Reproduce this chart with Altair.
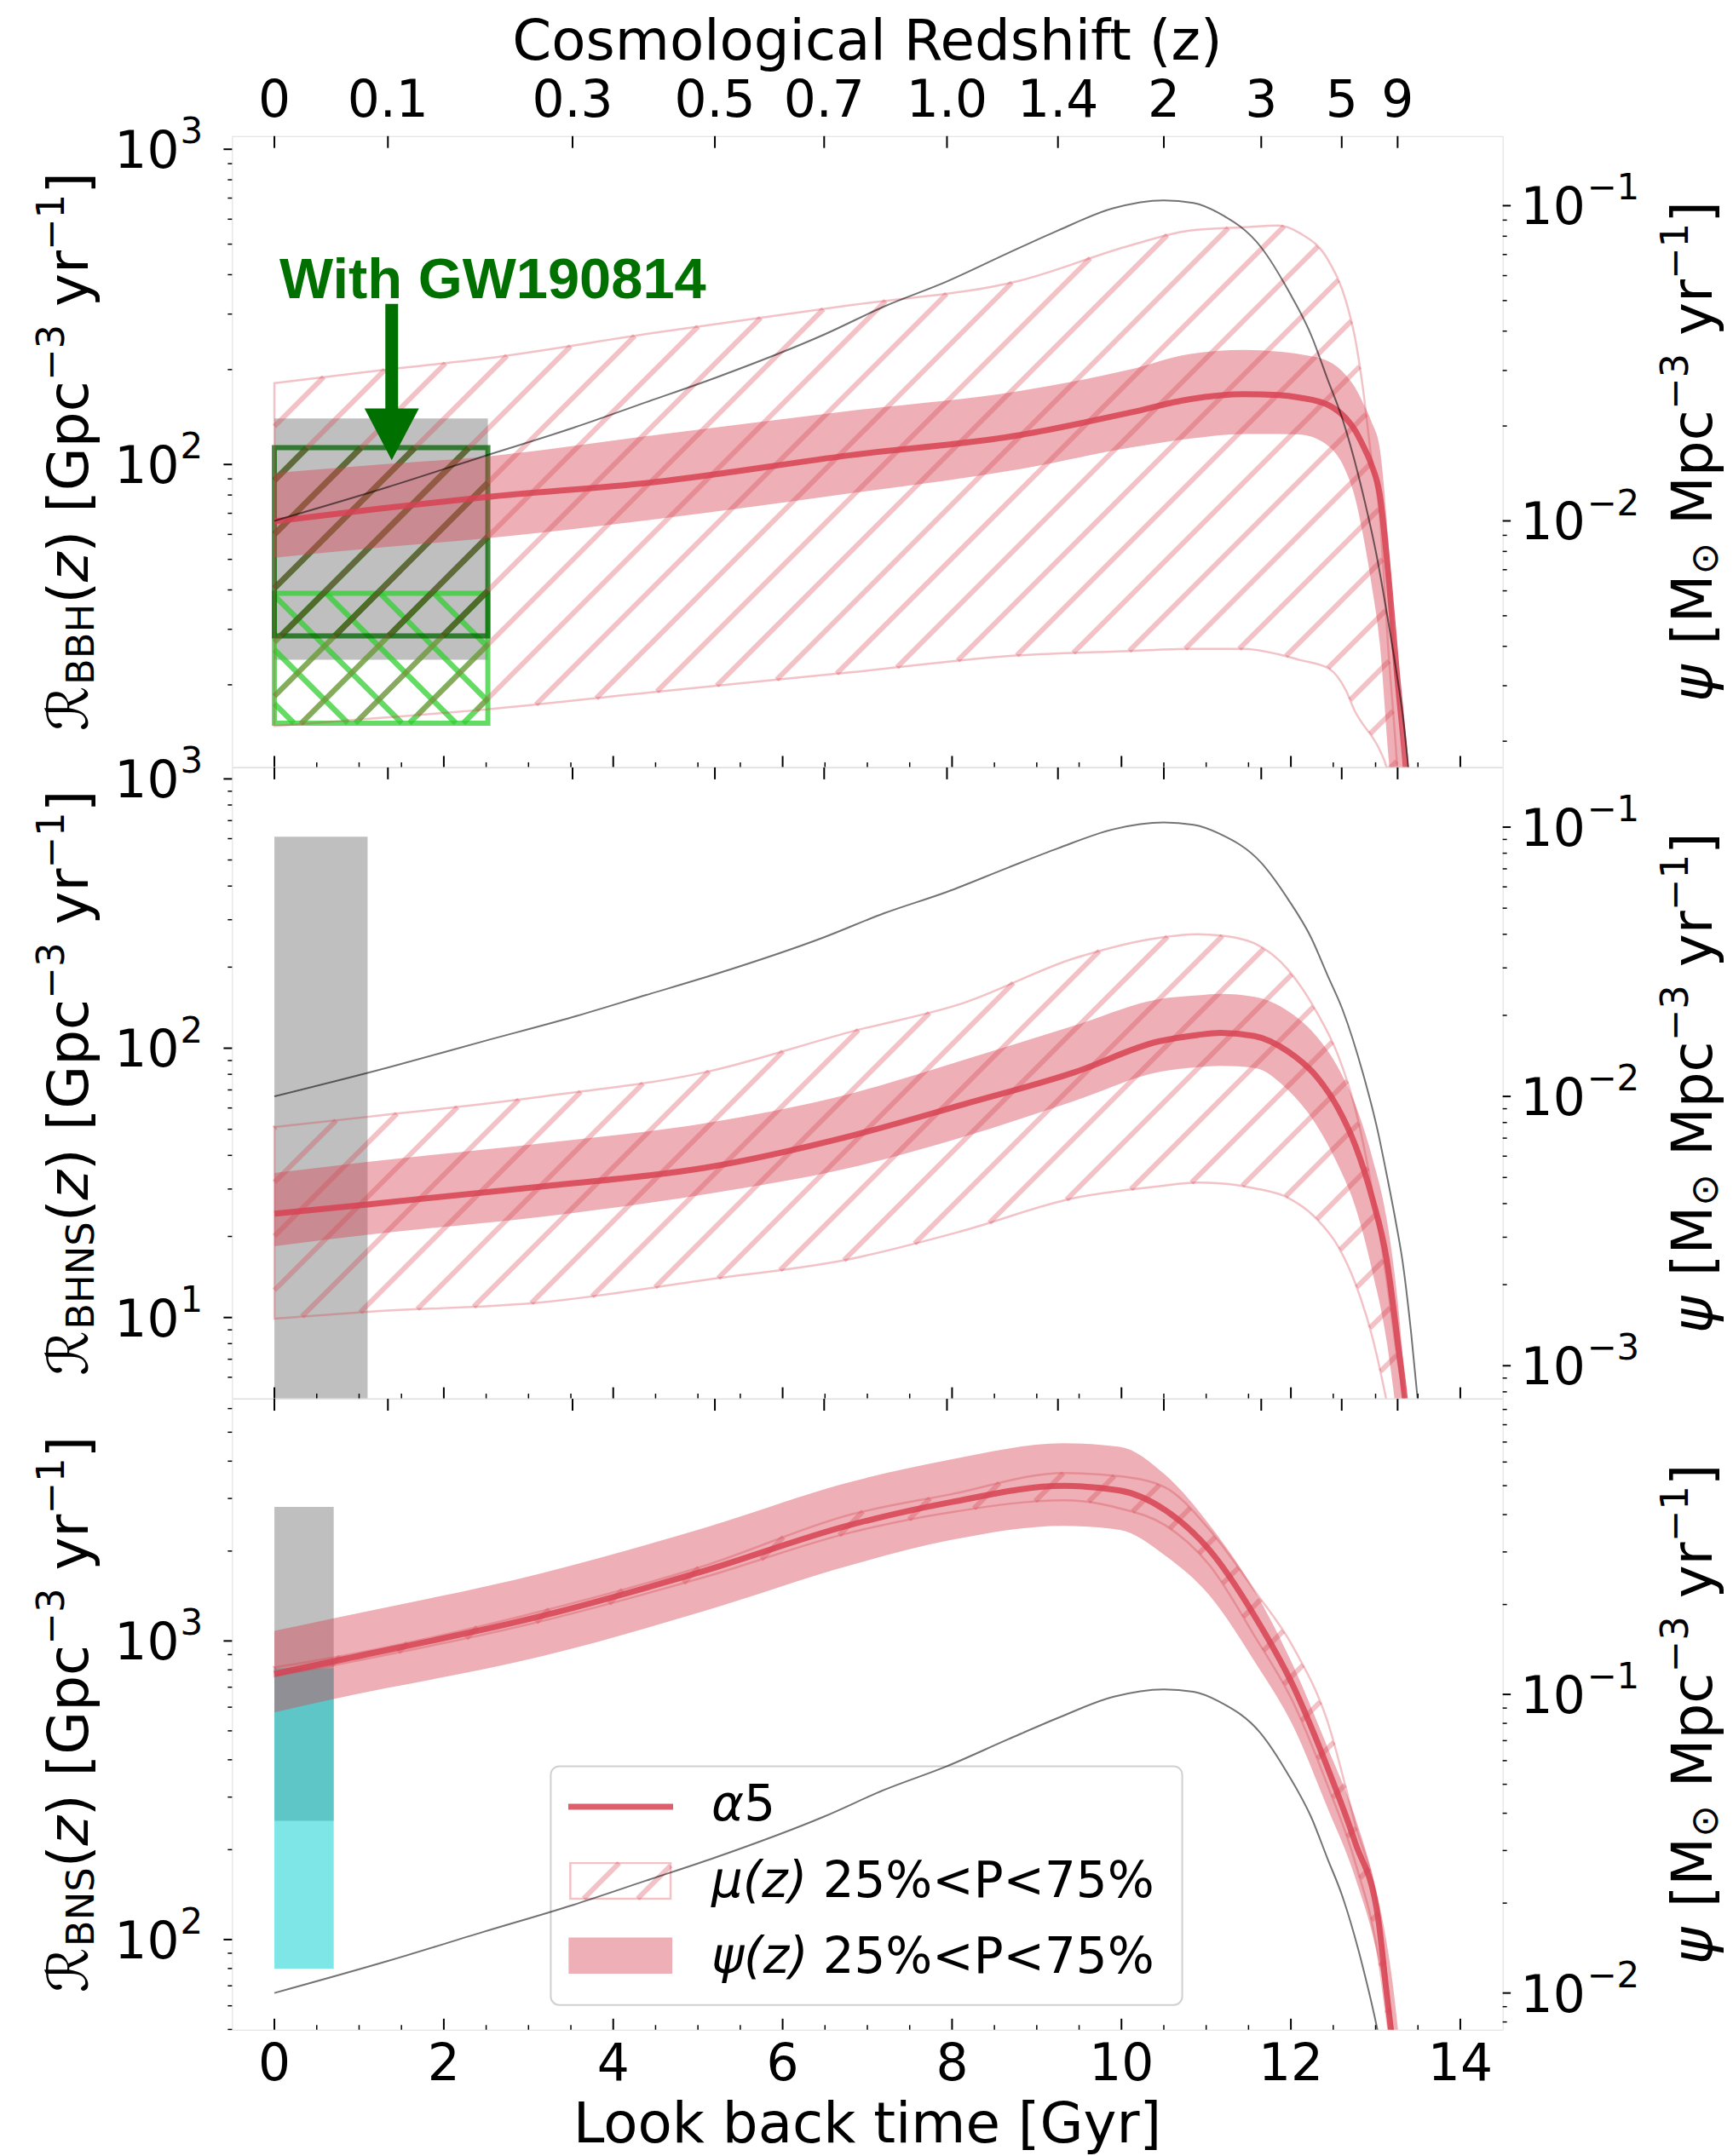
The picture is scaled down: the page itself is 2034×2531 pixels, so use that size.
import numpy as np
import pandas as pd
import altair as alt

# ---------------- values ----------------
# look-back time [Gyr]; rates [Gpc^-3 yr^-1]
P1_T = [0, 1.25, 2.5, 4.5, 6.8, 8.8, 10.1, 10.8, 11.45, 11.85, 12.1, 12.45, 12.65, 12.76, 12.85, 12.95, 13.05, 13.15, 13.25, 13.35, 13.45]
P1_MED = [66, 72.5, 78.8, 88, 107, 124, 146, 161, 167, 166, 163, 154, 140, 128, 115, 100, 80, 45, 22, 11.5, 5]
P1_PSI_LO = [50.6, 54.5, 58.3, 67, 81, 96.7, 113, 120.7, 125, 125, 124.5, 114, 95, 78, 60, 42, 27, 12, 6, 3, 2]
P1_PSI_HI = [94, 100, 106, 124, 148, 171, 200, 224, 231, 228, 224, 212, 192, 175, 157, 137, 112, 58, 22, 9, 4]
P1_MU_LO = [14.8, 15.7, 16.7, 19, 21.9, 24.8, 25.6, 26, 26, 25, 24, 22.5, 19.2, 16.4, 15, 13.8, 12.4, 10.3, 6, 3, 2]
P1_MU_HI = [181, 199, 217, 262, 320, 383, 495, 552, 566, 573, 543, 440, 330, 250, 175, 105, 68, 26, 11.5, 4, 2]

P2_T = [0, 1.1, 3.17, 5.09, 6.8, 8.13, 9.45, 10.44, 10.9, 11.17, 11.57, 11.97, 12.3, 12.56, 12.76, 12.96, 13.13, 13.26, 13.36, 13.45]
P2_MED = [24.3, 26.3, 30.7, 36, 47.2, 61.8, 81.5, 106, 112, 114, 111, 97, 78.7, 59.6, 43.6, 27.8, 16.5, 8.2, 4.5, 2]
P2_PSI_LO = [18.4, 20.3, 23.7, 28.7, 36, 46.8, 63.8, 81.5, 85, 86, 84.5, 69.7, 51.9, 36.6, 25.8, 14.9, 8.2, 4, 2, 1]
P2_PSI_HI = [34.4, 37.8, 44.4, 52.7, 67.8, 90.4, 121.5, 152, 157, 159, 155, 137, 111, 84.5, 61.8, 39.3, 23.3, 11.6, 5, 2]
P2_MU_LO = [9.9, 10.5, 11.4, 13.8, 16.5, 21, 27.8, 30.7, 31.7, 31.5, 30.2, 27.8, 23.3, 18.3, 13.4, 8.5, 4.9, 3, 2, 1]
P2_MU_HI = [51, 55.6, 66.2, 81.5, 115, 147, 216, 257, 265, 262, 245, 195, 137, 93.6, 59.6, 29.7, 13.8, 6.9, 4.5, 2]

P3_T = [0, 0.7, 3.17, 5.09, 6.8, 7.99, 9.32, 9.98, 10.51, 11.04, 11.57, 12.03, 12.43, 12.76, 13.03, 13.13, 13.2, 13.3]
P3_MED = [776, 855, 1215, 1722, 2447, 2917, 3306, 3190, 2750, 2013, 1214, 704, 378, 211, 118, 66, 45, 25]
P3_PSI_LO = [576, 639, 890, 1263, 1793, 2178, 2428, 2353, 1936, 1419, 855, 516, 277, 161, 86, 60, 40, 20]
P3_PSI_HI = [1081, 1191, 1691, 2399, 3408, 4056, 4594, 4467, 3612, 2447, 1475, 823, 442, 256, 137, 98, 72, 40]
P3_MU_LO = [762, 830, 1168, 1640, 2307, 2700, 2960, 2780, 2447, 1793, 1040, 620, 330, 181, 88, 55, 38, 20]
P3_MU_HI = [815, 880, 1262, 1790, 2649, 3100, 3650, 3560, 3275, 2356, 1475, 950, 540, 243, 125, 75, 50, 25]

# cosmic star formation rate psi [Msun Mpc^-3 yr^-1] (grey line, right axes)
SFR_T = [0, 1.34, 2.46, 3.52, 4.39, 5.2, 6.49, 7.2, 7.94, 8.66, 9.25, 9.9, 10.5, 10.85, 11.15, 11.65,
         11.97, 12.24, 12.43, 12.61, 12.85, 13.02, 13.14, 13.24, 13.32, 13.42, 13.52]
SFR_PSI = [0.0100, 0.0128, 0.0160, 0.0197, 0.0238, 0.0284, 0.0390, 0.0479, 0.0575, 0.0707, 0.0834, 0.0981,
           0.104, 0.102, 0.0947, 0.0737, 0.0538, 0.0388, 0.0283, 0.0210, 0.0122, 0.00757, 0.00496, 0.0034,
           0.00242, 0.00132, 0.00063]

# top axis: redshift labels at their look-back times
Z_LABELS = ["0", "0.1", "0.3", "0.5", "0.7", "1.0", "1.4", "2", "3", "5", "9"]
Z_T = [0, 1.34, 3.52, 5.2, 6.49, 7.94, 9.25, 10.5, 11.65, 12.6, 13.26]

# observed local rates (boxes): [t0, t1, low, high]
OBS_BBH_GREY = [0, 2.52, 24, 140]
OBS_BBH_WITH = [0, 2.52, 28.6, 113]
OBS_BBH_WITHOUT = [0, 2.52, 15.1, 39]
OBS_BHNS_GREY = [0, 1.1, 0.1, 610]
OBS_BNS_GREY = [0, 0.7, 250, 2810]
OBS_BNS_CYAN = [0, 0.7, 80, 810]

X_TICKS = [0, 2, 4, 6, 8, 10, 12, 14]

# ---------------- layout / style ----------------
XMIN, XMAX = -0.5, 14.5
W, H = 1495, 742.5
LEFT_ABS = 272.0
TOPS = [156.5, 899.0, 1641.5]
DOM_L = [[10.97, 1101.0], [5.01, 1103.0], [49.9, 6471.0]]
SHIFT = 10 ** -3.821
DOM_R = [[d[0] * SHIFT, d[1] * SHIFT] for d in DOM_L]
SP, PH = 63.5, 58.0   # hatch spacing / phase (pixels, anchored to the page)
CRIMSON = "#d74252"
FONT = "DejaVu Sans"
FS_TICK, FS_SUP = 60, 42
FS_T, FS_S = 66, 45
HATCH_W, HATCH_OP = 6, 0.32

XS = alt.Scale(domain=[XMIN, XMAX], nice=False, zero=False)


def xenc(f):
    return alt.X(f"{f}:Q", scale=XS, axis=None)


def yenc(f, dom):
    return alt.Y(f"{f}:Q", scale=alt.Scale(type="log", domain=dom, nice=False), axis=None)


def to_px(t):
    return (np.asarray(t, float) - XMIN) / (XMAX - XMIN) * W


def to_py(v, dom):
    lt, lb = np.log10(dom[1]), np.log10(dom[0])
    return (lt - np.log10(np.asarray(v, float))) / (lt - lb) * H


def from_px(px):
    return XMIN + np.asarray(px, float) / W * (XMAX - XMIN)


def from_py(py, dom):
    lt, lb = np.log10(dom[1]), np.log10(dom[0])
    return 10 ** (lt - np.asarray(py, float) / H * (lt - lb))


def mono(xn, yn, xq):
    """Same monotone cubic curve that the renderer draws (d3 curveMonotoneX), in pixel space."""
    xn = np.asarray(xn, float)
    yn = np.asarray(yn, float)
    n = len(xn)
    if n < 3:
        return np.interp(xq, xn, yn)
    h = np.diff(xn)
    s = np.diff(yn) / h
    m = np.zeros(n)
    for i in range(1, n - 1):
        p = (s[i - 1] * h[i] + s[i] * h[i - 1]) / (h[i - 1] + h[i])
        m[i] = (np.sign(s[i - 1]) + np.sign(s[i])) * min(abs(s[i - 1]), abs(s[i]), 0.5 * abs(p))
    m[0] = (3 * s[0] - m[1]) / 2
    m[-1] = (3 * s[-1] - m[-2]) / 2
    idx = np.clip(np.searchsorted(xn, xq, side="right") - 1, 0, n - 2)
    hh = h[idx]
    u = (xq - xn[idx]) / hh
    h00 = 2 * u ** 3 - 3 * u ** 2 + 1
    h10 = u ** 3 - 2 * u ** 2 + u
    h01 = -2 * u ** 3 + 3 * u ** 2
    h11 = u ** 3 - u ** 2
    return h00 * yn[idx] + h10 * hh * m[idx] + h01 * yn[idx + 1] + h11 * hh * m[idx + 1]


def hatch_px(pxn, ybot, ytop, top_abs, direction):
    pxn = np.asarray(pxn, float)
    grid = np.arange(pxn[0], pxn[-1], 0.25)
    grid = np.append(grid, pxn[-1])
    yb = np.clip(mono(pxn, ybot, grid), -30, H + 30)
    yt = np.clip(mono(pxn, ytop, grid), -30, H + 30)
    xa = grid + LEFT_ABS
    if direction > 0:
        cmin, cmax = (yt + xa).min() + top_abs, (yb + xa).max() + top_abs
    else:
        cmin, cmax = (yt - xa).min() + top_abs, (yb - xa).max() + top_abs
    segs = []
    for k in range(int(np.ceil((cmin - PH) / SP)), int(np.floor((cmax - PH) / SP)) + 1):
        c = PH + k * SP
        yl = (c - xa - top_abs) if direction > 0 else (c + xa - top_abs)
        inside = (yl >= yt) & (yl <= yb)
        if not inside.any():
            continue
        d = np.diff(np.concatenate([[0], inside.astype(int), [0]]))
        st = np.where(d == 1)[0]
        en = np.where(d == -1)[0] - 1
        for s, e in zip(st, en):
            if e > s:
                segs.append((grid[s], yl[s], grid[e], yl[e]))
    return segs


def hatch_data(segs, dom):
    a = np.array(segs)
    return pd.DataFrame({"t1": np.round(from_px(a[:, 0]), 5), "v1": from_py(a[:, 1], dom),
                         "t2": np.round(from_px(a[:, 2]), 5), "v2": from_py(a[:, 3], dom)})


EM = {" ": 0.318, "(": 0.390, ")": 0.390, "[": 0.390, "]": 0.390, "z": 0.525, "G": 0.775, "p": 0.635,
      "c": 0.550, "y": 0.592, "r": 0.411, "\u2212": 0.838, "1": 0.636, "2": 0.636, "3": 0.636, "B": 0.686,
      "H": 0.752, "N": 0.748, "S": 0.635, "M": 0.863, "\u03c8": 0.70, "\u2299": 0.838, "\u211b": 0.82}


def tlen(s, fs):
    return sum(EM.get(ch, 0.6) for ch in s) * fs


def rotated_title(pieces, center_y, base_x, sub_dx, sup_dx):
    sizes = {"n": FS_T, "sub": FS_S, "sup": FS_S}
    offs = {"n": 0, "sub": sub_dx, "sup": sup_dx}
    total = sum(tlen(p[0], sizes[p[1]]) for p in pieces)
    y = center_y + total / 2
    rows = []
    for t, k, st in pieces:
        fs = sizes[k]
        lead = len(t) - len(t.lstrip(" "))
        rows.append(dict(x=base_x + offs[k], y=y - lead * EM[" "] * fs, text=t.strip(), fs=fs, st=st))
        y -= tlen(t, fs)
    return pd.DataFrame(rows)


def rotated_layers(df):
    out = []
    for st in ["normal", "italic"]:
        sub = df[df.st == st]
        if len(sub):
            out.append(alt.Chart(sub).mark_text(angle=270, align="left", baseline="alphabetic",
                                                font=FONT, fontStyle=st).encode(
                x=alt.X("x:Q", scale=None), y=alt.Y("y:Q", scale=None), text="text:N",
                size=alt.Size("fs:Q", scale=None, legend=None)))
    return out


def rect_layer(box, dom, **kw):
    df = pd.DataFrame({"a": [box[0]], "b": [box[1]], "lo": [box[2]], "hi": [box[3]]})
    return alt.Chart(df).mark_rect(clip=True, **kw).encode(
        x=xenc("a"), x2="b:Q", y=yenc("lo", dom), y2="hi:Q")


def hatch_layer(segs, dom, color, opacity, width):
    return alt.Chart(hatch_data(segs, dom)).mark_rule(
        clip=True, color=color, opacity=opacity, strokeWidth=width).encode(
        x=xenc("t1"), x2="t2:Q", y=yenc("v1", dom), y2="v2:Q")


def box_hatch(box, dom, top, direction):
    pxn = to_px([box[0], box[1]])
    yb = to_py([box[2], box[2]], dom)
    yt = to_py([box[3], box[3]], dom)
    return hatch_px(pxn, yb, yt, top, direction)


def minor_vals(dom):
    out = []
    for e in range(-5, 5):
        for m in range(2, 10):
            v = m * 10.0 ** e
            if dom[0] < v < dom[1]:
                out.append(v)
    return out


def major_vals(dom):
    return [10.0 ** e for e in range(-5, 5) if dom[0] <= 10.0 ** e <= dom[1]]


def sup_str(v):
    e = int(round(np.log10(v)))
    return ("\u2212" if e < 0 else "") + str(abs(e))


PANELS = [
    dict(t=P1_T, med=P1_MED, plo=P1_PSI_LO, phi=P1_PSI_HI, mlo=P1_MU_LO, mhi=P1_MU_HI, sub="BBH"),
    dict(t=P2_T, med=P2_MED, plo=P2_PSI_LO, phi=P2_PSI_HI, mlo=P2_MU_LO, mhi=P2_MU_HI, sub="BHNS"),
    dict(t=P3_T, med=P3_MED, plo=P3_PSI_LO, phi=P3_PSI_HI, mlo=P3_MU_LO, mhi=P3_MU_HI, sub="BNS"),
]


def panel(i):
    P = PANELS[i]
    dom, domr, top = DOM_L[i], DOM_R[i], TOPS[i]
    L = []
    one = pd.DataFrame({"a": [0]})

    # ---- observed local rates
    if i == 0:
        L.append(rect_layer(OBS_BBH_GREY, dom, color="#808080", opacity=0.5))
        L.append(hatch_layer(box_hatch(OBS_BBH_WITHOUT, dom, top, 1), dom, "#32cd32", 0.75, 6.5))
        L.append(hatch_layer(box_hatch(OBS_BBH_WITHOUT, dom, top, -1), dom, "#32cd32", 0.75, 6.5))
        L.append(rect_layer(OBS_BBH_WITHOUT, dom, fill="white", fillOpacity=0, stroke="#32cd32",
                            strokeOpacity=0.75, strokeWidth=6))
        L.append(hatch_layer(box_hatch(OBS_BBH_WITH, dom, top, 1), dom, "#006400", 0.75, 7))
        L.append(rect_layer(OBS_BBH_WITH, dom, fill="white", fillOpacity=0, stroke="#006400",
                            strokeOpacity=0.75, strokeWidth=6))
    elif i == 1:
        L.append(rect_layer(OBS_BHNS_GREY, dom, color="#808080", opacity=0.5))
    else:
        L.append(rect_layer(OBS_BNS_GREY, dom, color="#808080", opacity=0.5))
        L.append(rect_layer(OBS_BNS_CYAN, dom, color="#00ced1", opacity=0.5))

    # ---- mu(z) hatched band
    segs = hatch_px(to_px(P["t"]), to_py(P["mlo"], dom), to_py(P["mhi"], dom), top, 1)
    L.append(hatch_layer(segs, dom, CRIMSON, HATCH_OP, HATCH_W))
    bd = pd.DataFrame({"t": P["t"], "mlo": P["mlo"], "mhi": P["mhi"], "plo": P["plo"],
                       "phi": P["phi"], "med": P["med"]})
    L.append(alt.Chart(bd).mark_area(clip=True, fillOpacity=0, stroke=CRIMSON, strokeOpacity=0.32,
                                     strokeWidth=2.5, interpolate="monotone").encode(
        x=xenc("t"), y=yenc("mlo", dom), y2="mhi:Q"))
    # ---- psi(z) band and median
    L.append(alt.Chart(bd).mark_area(clip=True, color=CRIMSON, opacity=0.42, interpolate="monotone").encode(
        x=xenc("t"), y=yenc("plo", dom), y2="phi:Q"))
    L.append(alt.Chart(bd).mark_line(clip=True, color=CRIMSON, opacity=0.85, strokeWidth=7,
                                     interpolate="monotone").encode(x=xenc("t"), y=yenc("med", dom)))

    # ---- annotation (top panel)
    if i == 0:
        L.append(alt.Chart(pd.DataFrame({"t": [0.06], "v": [338]})).mark_text(
            text="With GW190814", align="left", baseline="alphabetic", font="Liberation Sans",
            fontWeight="bold", fontSize=67, color="#007000").encode(x=xenc("t"), y=yenc("v", dom)))
        L.append(alt.Chart(pd.DataFrame({"t": [1.385], "a": [323], "b": [150]})).mark_rule(
            color="#007000", strokeWidth=15).encode(x=xenc("t"), y=yenc("a", dom), y2="b:Q"))
        L.append(alt.Chart(pd.DataFrame({"t": [1.385], "v": [124.6]})).mark_point(
            shape="M -1 -0.95 L 1 -0.95 L 0 0.95 Z", size=4096, filled=True, opacity=1,
            color="#007000", strokeWidth=0).encode(x=xenc("t"), y=yenc("v", dom)))
        # anchor for page placement
        L.append(alt.Chart(one).mark_rect(color="white").encode(
            x=alt.value(-264), x2=alt.value(-263), y=alt.value(-148.5), y2=alt.value(-147.5)))

    # ---- x ticks (inward)
    L.append(alt.Chart(pd.DataFrame({"t": X_TICKS})).mark_rule(color="black", strokeWidth=2).encode(
        x=xenc("t"), y=alt.value(H), y2=alt.value(H - 13)))
    minors = [m / 2 for m in range(1, 29) if m % 4 != 0]
    L.append(alt.Chart(pd.DataFrame({"t": minors})).mark_rule(color="black", strokeWidth=1.5).encode(
        x=xenc("t"), y=alt.value(H), y2=alt.value(H - 5.5)))
    L.append(alt.Chart(pd.DataFrame({"t": Z_T})).mark_rule(color="black", strokeWidth=2).encode(
        x=xenc("t"), y=alt.value(0), y2=alt.value(14)))
    if i == 0:
        L.append(alt.Chart(pd.DataFrame({"t": Z_T, "lab": Z_LABELS})).mark_text(
            align="center", baseline="alphabetic", fontSize=FS_TICK, font=FONT, color="black").encode(
            x=xenc("t"), y=alt.value(-23), text="lab:N"))
        L.append(alt.Chart(one).mark_text(text="Cosmological Redshift (z)", align="center",
                                          baseline="alphabetic", fontSize=FS_T, font=FONT).encode(
            x=alt.value(W / 2), y=alt.value(-90)))
    if i == 2:
        L.append(alt.Chart(pd.DataFrame({"t": X_TICKS, "lab": [str(v) for v in X_TICKS]})).mark_text(
            align="center", baseline="alphabetic", fontSize=FS_TICK, font=FONT, color="black").encode(
            x=xenc("t"), y=alt.value(H + 59), text="lab:N"))
        L.append(alt.Chart(one).mark_text(text="Look back time [Gyr]", align="center",
                                          baseline="alphabetic", fontSize=FS_T, font=FONT).encode(
            x=alt.value(W / 2), y=alt.value(H + 133)))

    # ---- left y axis
    maj = major_vals(dom)
    L.append(alt.Chart(pd.DataFrame({"v": maj})).mark_rule(color="black", strokeWidth=2).encode(
        x=alt.value(-10), x2=alt.value(0), y=yenc("v", dom)))
    L.append(alt.Chart(pd.DataFrame({"v": minor_vals(dom)})).mark_rule(color="black", strokeWidth=1.5).encode(
        x=alt.value(-5), x2=alt.value(0), y=yenc("v", dom)))
    L.append(alt.Chart(pd.DataFrame({"v": maj})).mark_text(
        text="10", align="right", baseline="alphabetic", dy=22, fontSize=FS_TICK, font=FONT).encode(
        x=alt.value(-62), y=yenc("v", dom)))
    L.append(alt.Chart(pd.DataFrame({"v": maj, "s": [sup_str(v) for v in maj]})).mark_text(
        align="left", baseline="alphabetic", dy=-7, fontSize=FS_SUP, font=FONT).encode(
        x=alt.value(-61), y=yenc("v", dom), text="s:N"))
    lt = rotated_title([("\u211b", "n", "normal"), (P["sub"], "sub", "normal"), ("(", "n", "normal"),
                        ("z", "n", "italic"), (") [Gpc", "n", "normal"), ("\u22123", "sup", "normal"),
                        (" yr", "n", "normal"), ("\u22121", "sup", "normal"), ("]", "n", "normal")],
                       H / 2, -170, 7, -28)
    L.extend(rotated_layers(lt))

    # ---- legend (bottom panel)
    if i == 2:
        L.append(alt.Chart(one).mark_rect(cornerRadius=10, fill="white", fillOpacity=0.8,
                                          stroke="#d0d0d0", strokeWidth=2).encode(
            x=alt.value(375), x2=alt.value(1118), y=alt.value(432.4), y2=alt.value(713.4)))
        L.append(alt.Chart(one).mark_rule(color=CRIMSON, opacity=0.85, strokeWidth=7).encode(
            x=alt.value(395.6), x2=alt.value(519), y=alt.value(480.1)))
        lsegs = hatch_px([398, 516], [588.4, 588.4], [546.4, 546.4], top, 1)
        la = np.array(lsegs)
        L.append(alt.Chart(pd.DataFrame({"x": la[:, 0], "y": la[:, 1], "x2": la[:, 2], "y2": la[:, 3]})).mark_rule(
            color=CRIMSON, opacity=HATCH_OP, strokeWidth=HATCH_W).encode(
            x=alt.X("x:Q", scale=None), y=alt.Y("y:Q", scale=None), x2="x2:Q", y2="y2:Q"))
        L.append(alt.Chart(one).mark_rect(fill="white", fillOpacity=0, stroke=CRIMSON, strokeOpacity=0.32,
                                          strokeWidth=2.5).encode(
            x=alt.value(398), x2=alt.value(516), y=alt.value(546.4), y2=alt.value(588.4)))
        L.append(alt.Chart(one).mark_rect(color=CRIMSON, opacity=0.42).encode(
            x=alt.value(396), x2=alt.value(518), y=alt.value(634.1), y2=alt.value(676.7)))
        leg = pd.DataFrame({
            "x": [564, 564 + 0.66 * 58, 564, 564 + 2.259 * 58, 564, 564 + 2.259 * 58],
            "y": [496.4, 496.4, 586.4, 586.4, 675.4, 675.4],
            "text": ["\u03b1", "5", "\u03bc(z)", "25%<P<75%", "\u03c8(z)", "25%<P<75%"],
            "st": ["italic", "normal", "italic", "normal", "italic", "normal"]})
        for st in ["italic", "normal"]:
            L.append(alt.Chart(leg[leg.st == st]).mark_text(
                align="left", baseline="alphabetic", fontSize=58, font=FONT, fontStyle=st).encode(
                x=alt.X("x:Q", scale=None), y=alt.Y("y:Q", scale=None), text="text:N"))

    # ---- right axis group
    R = []
    R.append(alt.Chart(pd.DataFrame({"t": SFR_T, "psi": SFR_PSI})).mark_line(
        clip=True, color="black", opacity=0.55, strokeWidth=2, interpolate="monotone").encode(
        x=xenc("t"), y=yenc("psi", domr)))
    majr = major_vals(domr)
    R.append(alt.Chart(pd.DataFrame({"v": majr})).mark_rule(color="black", strokeWidth=2).encode(
        x=alt.value(W), x2=alt.value(W + 9.5), y=yenc("v", domr)))
    R.append(alt.Chart(pd.DataFrame({"v": minor_vals(domr)})).mark_rule(color="black", strokeWidth=1.5).encode(
        x=alt.value(W), x2=alt.value(W + 5), y=yenc("v", domr)))
    R.append(alt.Chart(pd.DataFrame({"v": majr})).mark_text(
        text="10", align="left", baseline="alphabetic", dy=22, fontSize=FS_TICK, font=FONT).encode(
        x=alt.value(W + 21), y=yenc("v", domr)))
    R.append(alt.Chart(pd.DataFrame({"v": majr, "s": [sup_str(v) for v in majr]})).mark_text(
        align="left", baseline="alphabetic", dy=-7, fontSize=FS_SUP, font=FONT).encode(
        x=alt.value(W + 99), y=yenc("v", domr), text="s:N"))
    rt = rotated_title([("\u03c8", "n", "italic"), (" [M", "n", "normal"), ("\u2299", "sub", "normal"),
                        (" Mpc", "n", "normal"), ("\u22123", "sup", "normal"), (" yr", "n", "normal"),
                        ("\u22121", "sup", "normal"), ("]", "n", "normal")], H / 2, W + 246, 7, -28)
    R.extend(rotated_layers(rt))

    return alt.layer(alt.layer(*L), alt.layer(*R)).resolve_scale(y="independent").properties(
        width=W, height=H)


chart = alt.vconcat(panel(0), panel(1), panel(2), spacing=0, bounds="flush").properties(
    padding={"left": 0, "top": 0, "right": 0, "bottom": 0}
).configure_view(stroke="black", strokeWidth=2).configure(font=FONT)

chart.save("out.html", embed_options={"renderer": "svg", "actions": False})
